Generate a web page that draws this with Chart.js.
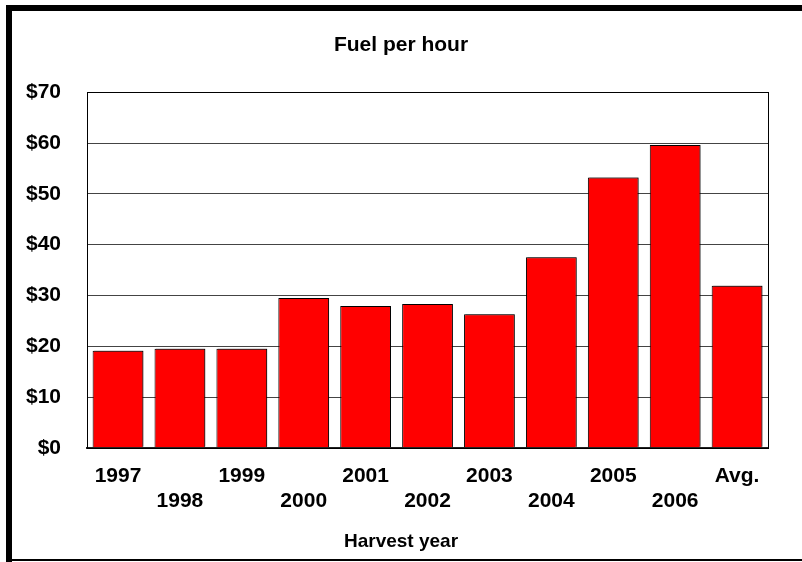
<!DOCTYPE html>
<html>
<head>
<meta charset="utf-8">
<script src="https://cdn.jsdelivr.net/npm/chart.js@4.4.1/dist/chart.umd.min.js"></script>
<style>
  html, body { margin: 0; padding: 0; background: #fff; }
  #wrap { width: 802px; height: 562px; position: relative; }
</style>
</head>
<body>
<div id="wrap"><canvas id="fuel"></canvas></div>
<script>
// harvest years plus the average column
const categories = ["1997", "1998", "1999", "2000", "2001", "2002", "2003", "2004", "2005", "2006", "Avg."];
const fuelPerHour = [19.1, 19.5, 19.5, 29.5, 27.9, 28.3, 26.3, 37.5, 53.2, 59.6, 31.9];
const yMin = 0, yMax = 70, yStep = 10;

const fontFamily = "'Liberation Sans', Arial, sans-serif";

// outer frame of the picture (thick left/top, thin bottom)
const framePlugin = {
  id: "frame",
  beforeDraw(chart) {
    const ctx = chart.ctx;
    ctx.save();
    ctx.fillStyle = "#fff";
    ctx.fillRect(0, 0, chart.width, chart.height);
    ctx.fillStyle = "#000";
    ctx.fillRect(6, 5, chart.width - 6, 6);
    ctx.fillRect(6, 5, 6, chart.height - 5);
    ctx.fillRect(6, chart.height - 3, chart.width - 6, 2);
    ctx.restore();
  },
  beforeDatasetsDraw(chart) {
    const { ctx, chartArea: a } = chart;
    ctx.save();
    ctx.strokeStyle = "#000";
    ctx.lineWidth = 1;
    ctx.strokeRect(Math.round(a.left) + 0.5, Math.round(a.top) + 0.5, Math.round(a.right - a.left), Math.round(a.bottom - a.top));
    ctx.restore();
  },
  beforeDatasetDraw(chart) {
    const ctx = chart.ctx;
    ctx.save();
    ctx.shadowColor = "rgba(0,0,0,0.4)";
    ctx.shadowOffsetX = 1.5;
    ctx.shadowOffsetY = -1;
    ctx.shadowBlur = 0;
  },
  afterDatasetDraw(chart) {
    chart.ctx.restore();
  }
};

new Chart(document.getElementById("fuel"), {
  type: "bar",
  data: {
    labels: categories,
    datasets: [{
      label: "Fuel per hour",
      data: fuelPerHour,
      backgroundColor: "#ff0000",
      borderColor: "#000",
      borderWidth: 1,
      barPercentage: 0.82,
      categoryPercentage: 1
    }]
  },
  options: {
    responsive: true,
    maintainAspectRatio: false,
    animation: false,
    layout: { padding: { left: 0, right: 0, top: 20, bottom: 9 } },
    plugins: {
      legend: { display: false },
      tooltip: { enabled: false },
      title: {
        display: true,
        text: "Fuel per hour",
        color: "#000",
        font: { family: fontFamily, size: 21, weight: "bold" },
        padding: { top: 13, bottom: 34 }
      },
      // x axis title, page-centred like the original
      subtitle: {
        display: true,
        position: "bottom",
        text: "Harvest year",
        color: "#000",
        font: { family: fontFamily, size: 19, weight: "bold" },
        padding: { top: 0, bottom: 0 }
      }
    },
    scales: {
      x: {
        grid: { display: false, drawTicks: false },
        border: { display: true, color: "#222", width: 2 },
        ticks: {
          color: "#000",
          padding: 16,
          maxRotation: 0,
          autoSkip: false,
          font: { family: fontFamily, size: 21, weight: "bold" },
          callback: (v, i) => i % 2 === 0 ? [categories[i], ""] : ["", categories[i]]
        }
      },
      y: {
        min: yMin,
        max: yMax,
        grid: { color: "#444", lineWidth: 1, drawTicks: false },
        border: { display: true, color: "#000", width: 1 },
        ticks: {
          stepSize: yStep,
          color: "#000",
          padding: 26,
          font: { family: fontFamily, size: 21, weight: "bold" },
          callback: v => "$" + v
        }
      },
      // empty right-hand gutter so the title stays centred on the page
      gutter: {
        type: "linear",
        position: "right",
        min: yMin,
        max: yMax,
        afterFit: scale => { scale.width = 34; },
        grid: { display: false, drawTicks: false },
        border: { display: false },
        ticks: { display: false }
      }
    }
  },
  plugins: [framePlugin]
});
</script>
</body>
</html>
